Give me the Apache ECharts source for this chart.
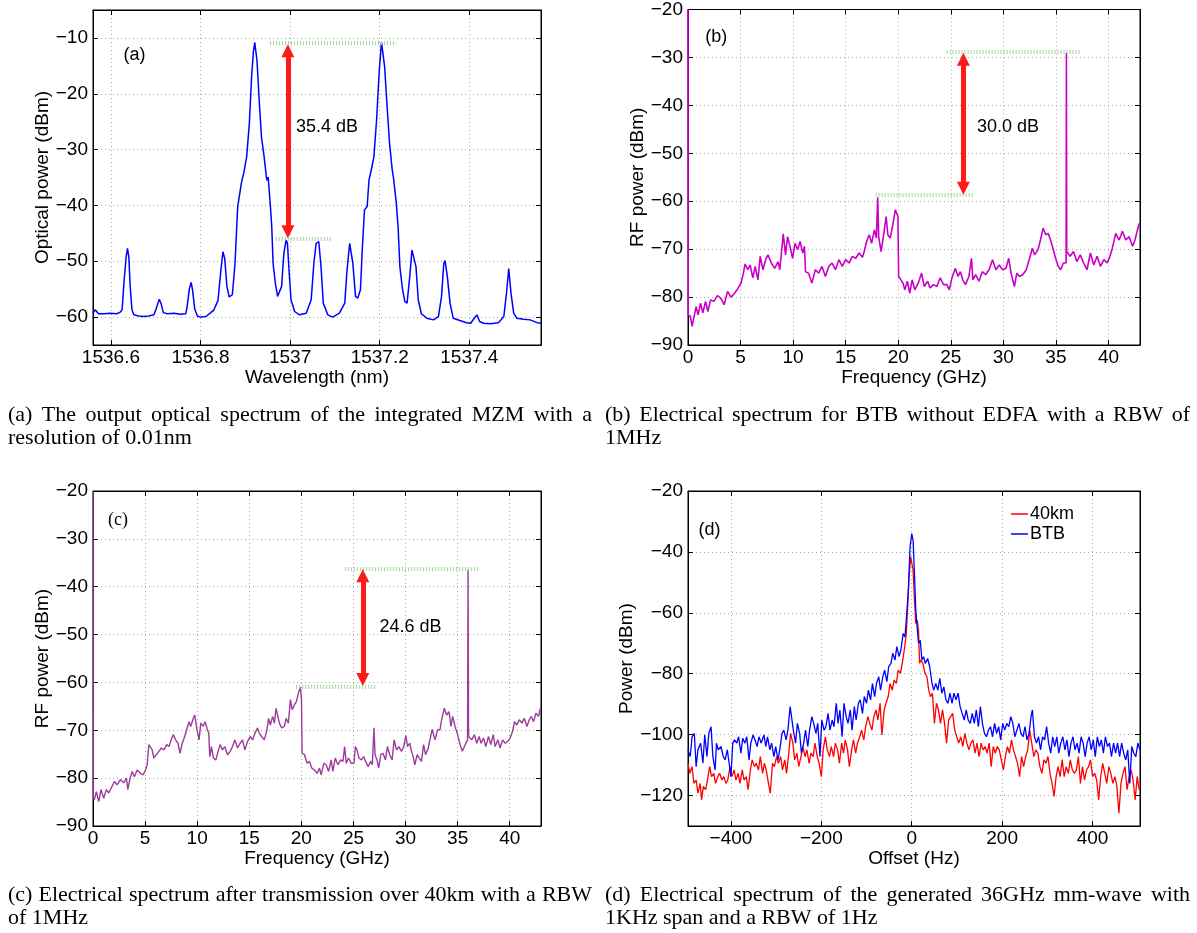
<!DOCTYPE html>
<html><head><meta charset="utf-8">
<script src="https://cdn.jsdelivr.net/npm/echarts@6/dist/echarts.min.js"></script>
<style>html,body{margin:0;padding:0;background:#fff}#c{width:1197px;height:933px}</style>
</head><body><div id="c"></div>
<script>
// ---------- DATA ----------
// (a) optical spectrum: wavelength (nm) / power (dBm)
const aWavelength = [1536.560,1536.565,1536.572,1536.584,1536.599,1536.613,1536.621,1536.625,1536.629,1536.634,1536.637,1536.640,1536.643,1536.647,1536.651,1536.662,1536.673,1536.684,1536.696,1536.701,1536.705,1536.708,1536.712,1536.717,1536.726,1536.741,1536.755,1536.767,1536.770,1536.775,1536.779,1536.782,1536.787,1536.793,1536.800,1536.812,1536.823,1536.830,1536.839,1536.845,1536.850,1536.854,1536.859,1536.864,1536.871,1536.877,1536.883,1536.886,1536.891,1536.897,1536.903,1536.909,1536.914,1536.918,1536.921,1536.923,1536.926,1536.931,1536.936,1536.942,1536.947,1536.948,1536.951,1536.956,1536.959,1536.962,1536.967,1536.972,1536.976,1536.981,1536.986,1536.991,1536.994,1536.998,1537.002,1537.010,1537.021,1537.036,1537.047,1537.053,1537.058,1537.064,1537.069,1537.074,1537.084,1537.095,1537.110,1537.122,1537.127,1537.133,1537.135,1537.140,1537.146,1537.151,1537.157,1537.161,1537.166,1537.172,1537.176,1537.181,1537.187,1537.193,1537.199,1537.204,1537.206,1537.211,1537.216,1537.222,1537.228,1537.231,1537.234,1537.237,1537.241,1537.245,1537.251,1537.256,1537.261,1537.267,1537.272,1537.276,1537.281,1537.286,1537.293,1537.305,1537.320,1537.331,1537.338,1537.343,1537.346,1537.351,1537.357,1537.364,1537.379,1537.394,1537.403,1537.411,1537.417,1537.423,1537.432,1537.447,1537.465,1537.477,1537.483,1537.488,1537.493,1537.499,1537.506,1537.521,1537.536,1537.551,1537.562];
const aPower = [-59.3,-58.7,-59.4,-59.4,-59.3,-59.4,-59.1,-58.7,-53.9,-49.2,-47.7,-49.2,-54.5,-58.7,-59.6,-59.8,-59.9,-59.8,-59.6,-58.5,-57.5,-56.8,-57.6,-59.2,-59.4,-59.3,-59.5,-59.4,-58.2,-55.0,-53.8,-55.0,-58.5,-59.8,-60.0,-59.9,-59.2,-58.7,-57.0,-52.0,-48.3,-49.5,-54.5,-56.4,-56.0,-50.4,-40.2,-39.9,-36.1,-34.0,-31.3,-25.3,-17.0,-12.5,-10.8,-11.0,-14.0,-21.2,-27.7,-31.3,-34.9,-35.5,-34.9,-40.2,-43.8,-50.4,-53.9,-56.3,-56.6,-54.5,-48.6,-46.2,-46.8,-52.2,-56.9,-59.0,-59.6,-59.3,-56.9,-50.4,-46.8,-46.5,-51.0,-57.5,-59.6,-60.0,-59.3,-57.5,-51.6,-46.8,-46.7,-50.4,-56.3,-56.6,-55.1,-48.0,-40.8,-40.2,-35.5,-33.7,-31.3,-24.7,-15.8,-10.8,-11.0,-15.2,-21.7,-28.9,-33.7,-35.2,-34.9,-39.6,-43.8,-51.0,-55.1,-57.2,-57.5,-52.8,-48.0,-47.7,-51.0,-56.9,-59.4,-60.2,-60.5,-59.9,-56.3,-50.4,-49.9,-52.8,-57.5,-60.2,-60.6,-61.0,-61.1,-60.2,-59.6,-60.8,-61.1,-61.2,-61.0,-59.9,-55.7,-51.3,-55.7,-59.3,-60.2,-60.4,-60.5,-61.0,-61.1];

// (b) RF spectrum BTB without EDFA: [frequency GHz, power dBm]
const bSpectrum = [[0,-20],[0.02,-83.7],[0.22,-84.0],[0.39,-86.1],[0.55,-84.4],[0.77,-82.0],[0.96,-83.7],[1.19,-81.3],[1.41,-83.3],[1.67,-80.9],[1.89,-83.0],[2.15,-80.6],[2.47,-80.9],[2.79,-79.7],[3.11,-80.2],[3.44,-81.6],[3.76,-78.8],[4.08,-80.0],[4.40,-79.3],[4.72,-78.3],[5.04,-77.1],[5.27,-75.0],[5.43,-73.1],[5.68,-74.3],[5.91,-73.3],[6.17,-76.0],[6.39,-73.6],[6.65,-76.4],[6.87,-71.5],[7.13,-74.3],[7.39,-72.2],[7.61,-71.2],[7.93,-72.9],[8.25,-74.0],[8.57,-72.6],[8.73,-74.3],[8.89,-70.8],[9.06,-66.8],[9.28,-71.2],[9.47,-67.4],[9.70,-69.4],[9.95,-71.9],[10.18,-68.8],[10.44,-70.1],[10.66,-68.4],[10.92,-70.8],[11.08,-69.4],[11.18,-74.7],[11.46,-75.0],[11.79,-77.1],[12.11,-74.3],[12.43,-75.0],[12.75,-73.6],[13.07,-75.7],[13.39,-73.6],[13.71,-72.9],[14.03,-74.3],[14.35,-72.2],[14.68,-73.6],[15.00,-72.2],[15.32,-72.9],[15.64,-71.5],[15.96,-71.9],[16.28,-70.8],[16.60,-71.7],[16.76,-70.5],[16.99,-68.4],[17.24,-67.0],[17.47,-68.8],[17.73,-66.0],[17.92,-67.7],[18.05,-59.2],[18.14,-67.4],[18.37,-70.5],[18.63,-66.7],[18.85,-63.2],[19.01,-67.0],[19.24,-67.7],[19.49,-64.9],[19.72,-61.8],[19.97,-63.2],[20.04,-75.7],[20.23,-75.3],[20.46,-77.1],[20.62,-78.5],[20.87,-76.7],[21.10,-79.2],[21.32,-76.4],[21.58,-78.5],[21.90,-77.1],[22.22,-75.0],[22.48,-77.8],[22.80,-76.7],[23.02,-78.1],[23.35,-77.4],[23.67,-77.8],[23.99,-76.0],[24.31,-77.4],[24.63,-77.4],[24.86,-78.5],[25.11,-76.0],[25.43,-74.0],[25.69,-75.7],[25.91,-74.7],[26.14,-76.4],[26.40,-77.4],[26.72,-75.7],[26.97,-71.9],[27.10,-76.4],[27.36,-75.3],[27.68,-76.7],[28.00,-74.7],[28.32,-75.3],[28.64,-74.3],[28.97,-72.2],[29.29,-74.3],[29.61,-73.3],[29.93,-74.3],[30.25,-74.0],[30.51,-71.9],[30.73,-75.0],[31.05,-77.8],[31.28,-75.0],[31.53,-75.7],[31.86,-75.3],[32.18,-74.3],[32.50,-71.9],[32.76,-69.8],[32.98,-71.2],[33.30,-70.1],[33.53,-68.1],[33.78,-65.6],[34.04,-67.0],[34.26,-66.7],[34.49,-68.1],[34.75,-70.1],[34.97,-71.9],[35.23,-73.6],[35.45,-74.3],[35.71,-72.9],[35.97,-72.9],[36.00,-29.0],[36.03,-70.5],[36.35,-71.5],[36.67,-70.5],[36.99,-72.6],[37.32,-71.2],[37.64,-72.9],[37.96,-74.3],[38.28,-70.8],[38.60,-73.3],[38.92,-71.5],[39.24,-73.6],[39.56,-72.2],[39.88,-72.9],[40.14,-71.5],[40.37,-69.8],[40.69,-66.7],[41.01,-68.1],[41.33,-66.3],[41.65,-68.1],[41.97,-67.4],[42.29,-69.4],[42.52,-68.1],[42.72,-66.3],[42.94,-64.6]];

// (c) RF spectrum after 40 km: [frequency GHz, power dBm]
const cSpectrum = [[0,-20],[0.02,-83.8],[0.13,-84.5],[0.32,-82.8],[0.55,-84.9],[0.77,-82.4],[1.03,-84.2],[1.28,-82.4],[1.51,-83.1],[1.83,-81.7],[2.06,-80.7],[2.31,-81.4],[2.63,-80.3],[2.95,-81.0],[3.21,-80.0],[3.34,-82.4],[3.53,-80.3],[3.76,-78.6],[3.98,-79.7],[4.24,-78.3],[4.56,-79.0],[4.82,-79.3],[5.04,-78.3],[5.20,-77.2],[5.36,-73.0],[5.52,-73.4],[5.68,-74.1],[5.84,-75.8],[6.07,-75.1],[6.33,-74.4],[6.55,-73.7],[6.81,-74.1],[7.07,-73.0],[7.29,-73.4],[7.51,-72.0],[7.71,-70.9],[7.93,-72.0],[8.16,-72.7],[8.35,-74.8],[8.57,-72.7],[8.80,-71.3],[8.99,-69.9],[9.22,-68.2],[9.38,-69.2],[9.63,-67.5],[9.76,-66.8],[9.95,-69.5],[10.18,-72.0],[10.34,-68.5],[10.57,-69.2],[10.76,-68.2],[10.98,-69.9],[11.11,-70.6],[11.21,-75.5],[11.37,-73.4],[11.56,-75.8],[11.79,-76.2],[12.01,-74.4],[12.20,-73.0],[12.43,-74.1],[12.65,-73.4],[12.91,-75.1],[13.17,-74.4],[13.39,-73.4],[13.62,-72.0],[13.87,-73.7],[14.13,-72.7],[14.35,-72.0],[14.58,-74.1],[14.84,-72.3],[15.09,-71.3],[15.32,-72.0],[15.54,-70.6],[15.80,-69.5],[15.96,-70.6],[16.18,-71.3],[16.44,-72.0],[16.67,-70.2],[16.86,-67.5],[17.02,-68.9],[17.24,-67.1],[17.41,-68.5],[17.57,-65.4],[17.73,-65.7],[17.89,-68.5],[18.11,-69.5],[18.37,-69.2],[18.53,-67.5],[18.75,-68.5],[18.95,-63.6],[19.11,-65.7],[19.33,-64.7],[19.52,-64.0],[19.72,-62.2],[19.91,-61.0],[20.01,-63.6],[20.07,-74.8],[20.30,-75.1],[20.55,-76.9],[20.78,-76.5],[21.00,-77.9],[21.26,-78.3],[21.52,-79.0],[21.74,-77.9],[21.90,-79.3],[22.16,-76.9],[22.38,-77.2],[22.61,-78.6],[22.86,-76.2],[23.02,-78.6],[23.25,-75.8],[23.51,-77.2],[23.76,-76.2],[23.99,-76.5],[24.15,-73.4],[24.31,-76.9],[24.53,-75.8],[24.79,-76.9],[25.05,-76.9],[25.18,-73.4],[25.34,-74.1],[25.53,-75.8],[25.75,-76.2],[25.98,-75.5],[26.17,-76.5],[26.40,-77.6],[26.65,-76.5],[26.81,-77.2],[26.97,-69.5],[27.07,-75.1],[27.26,-76.2],[27.42,-77.9],[27.62,-75.1],[27.84,-74.8],[28.07,-76.2],[28.26,-73.4],[28.48,-75.1],[28.71,-76.2],[28.90,-72.0],[29.13,-74.1],[29.35,-73.4],[29.61,-74.4],[29.83,-73.4],[30.03,-71.1],[30.19,-73.4],[30.41,-72.7],[30.57,-74.4],[30.73,-75.5],[30.89,-77.2],[31.12,-75.1],[31.31,-75.8],[31.53,-76.5],[31.73,-73.0],[31.92,-75.1],[32.18,-73.7],[32.34,-72.0],[32.56,-69.8],[32.82,-72.0],[33.08,-69.9],[33.30,-69.9],[33.46,-67.8],[33.72,-65.4],[33.94,-66.8],[34.17,-66.1],[34.36,-69.2],[34.52,-67.1],[34.75,-69.2],[35.00,-70.9],[35.23,-73.0],[35.45,-74.4],[35.65,-73.4],[35.95,-72.0],[36.00,-36.4],[36.05,-71.3],[36.35,-72.0],[36.61,-70.9],[36.83,-72.7],[37.06,-71.3],[37.25,-72.7],[37.48,-71.6],[37.70,-73.4],[37.96,-71.3],[38.18,-73.0],[38.41,-70.9],[38.60,-73.4],[38.86,-72.0],[39.08,-73.7],[39.31,-72.0],[39.56,-72.7],[39.82,-72.3],[40.04,-71.6],[40.27,-70.2],[40.46,-68.2],[40.69,-68.9],[40.91,-67.8],[41.17,-68.5],[41.39,-67.5],[41.65,-69.2],[41.87,-67.8],[42.07,-67.1],[42.29,-68.2],[42.52,-66.4],[42.77,-67.1],[42.94,-65.4]];

// (d) 36 GHz mm-wave: [offset Hz, power dBm]
const d40km = [[-495,-109.4],[-491,-112.7],[-486,-110.5],[-482,-116.0],[-477,-114.9],[-473,-119.2],[-468,-116.0],[-465,-121.4],[-461,-117.0],[-456,-118.1],[-452,-114.9],[-447,-110.5],[-443,-113.8],[-438,-112.7],[-434,-116.0],[-429,-113.8],[-425,-112.7],[-420,-114.9],[-416,-113.8],[-411,-116.0],[-407,-114.9],[-402,-110.5],[-398,-113.8],[-393,-111.6],[-389,-114.9],[-384,-112.7],[-380,-116.0],[-375,-111.6],[-371,-114.9],[-366,-113.8],[-362,-118.1],[-357,-111.6],[-353,-108.3],[-348,-110.5],[-344,-109.4],[-339,-111.6],[-335,-107.2],[-330,-112.7],[-326,-109.4],[-322,-111.6],[-317,-116.0],[-313,-119.2],[-308,-109.4],[-304,-110.5],[-299,-107.2],[-295,-109.4],[-290,-107.2],[-286,-111.6],[-281,-108.3],[-277,-112.7],[-272,-106.1],[-268,-99.6],[-263,-102.8],[-259,-108.3],[-254,-106.1],[-250,-110.5],[-245,-107.2],[-241,-103.9],[-236,-107.2],[-232,-105.0],[-227,-109.4],[-223,-106.1],[-218,-107.2],[-214,-102.8],[-209,-107.2],[-205,-109.4],[-200,-113.8],[-196,-105.0],[-191,-100.7],[-187,-105.0],[-182,-107.2],[-178,-103.9],[-173,-107.2],[-169,-102.8],[-164,-105.0],[-160,-109.4],[-155,-102.8],[-151,-106.1],[-147,-101.7],[-142,-105.0],[-138,-110.5],[-133,-105.0],[-129,-101.7],[-124,-106.1],[-120,-102.8],[-115,-100.7],[-111,-98.5],[-106,-101.7],[-102,-97.4],[-97,-94.1],[-93,-96.3],[-88,-98.5],[-84,-94.1],[-79,-91.9],[-75,-95.2],[-70,-89.7],[-66,-100.1],[-61,-91.9],[-57,-89.7],[-52,-87.5],[-48,-83.2],[-43,-85.4],[-39,-82.1],[-34,-83.2],[-30,-78.8],[-25,-79.9],[-21,-76.6],[-16.5,-72.2],[-12,-66.8],[-9,-58.0],[-6,-48.2],[-2.2,-41.6],[0,-41.4],[3,-46.0],[6,-55.8],[9,-63.5],[12,-62.4],[15,-65.7],[17.3,-76.6],[20.3,-75.5],[24.8,-76.6],[29.2,-79.9],[33.7,-81.0],[37.5,-85.4],[41.2,-87.5],[45.7,-86.4],[50.2,-96.3],[54.7,-89.7],[59.1,-91.9],[63.6,-96.3],[68.1,-91.9],[72.6,-96.3],[77.1,-102.8],[81.6,-95.2],[86.1,-94.1],[90.6,-93.0],[95.0,-98.5],[99.5,-100.7],[104.0,-102.8],[108.5,-100.7],[113.0,-103.9],[117.5,-99.6],[122.0,-102.8],[126.4,-105.0],[130.9,-102.8],[135.4,-101.7],[139.9,-106.1],[144.4,-102.8],[148.9,-107.2],[153.4,-102.8],[157.8,-105.0],[162.3,-103.9],[166.8,-106.1],[171.3,-102.8],[175.8,-110.5],[180.3,-103.9],[184.8,-106.1],[189.2,-103.9],[193.7,-105.0],[198.2,-108.3],[202.7,-111.6],[207.2,-107.2],[211.7,-103.9],[216.2,-106.1],[220.7,-101.7],[225.1,-105.0],[229.6,-107.2],[234.1,-109.4],[238.6,-113.8],[243.1,-107.2],[247.6,-110.5],[252.1,-107.2],[256.6,-105.0],[261.0,-98.5],[265.5,-102.8],[270.0,-107.2],[274.5,-105.0],[279.0,-106.1],[283.5,-110.5],[288.0,-112.7],[292.4,-108.3],[296.9,-109.4],[301.4,-107.2],[305.9,-112.7],[310.4,-116.0],[314.9,-120.3],[319.4,-113.8],[323.8,-110.5],[328.3,-113.8],[332.8,-108.3],[337.3,-113.8],[341.8,-110.5],[346.3,-112.7],[350.8,-108.3],[355.3,-111.6],[359.7,-112.7],[364.2,-111.6],[368.7,-107.2],[373.2,-116.0],[377.7,-110.5],[382.2,-114.9],[386.6,-111.6],[391.1,-110.5],[395.6,-108.3],[400.1,-113.8],[404.6,-112.7],[409.1,-114.9],[413.6,-121.4],[418.0,-113.8],[422.5,-109.4],[427.0,-112.7],[431.5,-116.0],[436.0,-110.5],[440.5,-112.7],[445.0,-116.0],[449.5,-113.8],[453.9,-117.0],[458.4,-125.8],[462.9,-116.0],[467.4,-112.7],[471.9,-110.5],[476.4,-118.1],[480.9,-113.8],[485.4,-111.6],[489.8,-114.9],[494.3,-121.4],[498.8,-113.8],[503.3,-118.1],[504.8,-117.0]];
const dBTB = [[-495,-105.0],[-490,-107.2],[-486,-100.7],[-481,-99.6],[-477,-110.5],[-473,-105.0],[-467,-102.8],[-462,-109.4],[-458,-100.1],[-453,-107.2],[-449,-99.6],[-444,-97.4],[-440,-107.2],[-435,-111.6],[-432,-102.8],[-428,-105.0],[-422,-103.9],[-417,-107.2],[-413,-108.3],[-408,-105.0],[-404,-109.4],[-400,-113.8],[-396,-102.8],[-392,-101.7],[-387,-102.8],[-383,-100.7],[-378,-106.1],[-374,-101.2],[-369,-102.8],[-365,-100.7],[-360,-108.3],[-356,-102.8],[-351,-100.1],[-347,-101.7],[-342,-103.9],[-338,-100.7],[-333,-102.8],[-327,-100.1],[-323,-103.9],[-319,-100.7],[-314,-105.0],[-310,-102.8],[-305,-107.2],[-301,-103.9],[-296,-108.3],[-292,-105.0],[-287,-99.6],[-283,-98.5],[-278,-101.7],[-274,-98.5],[-269,-90.8],[-266,-90.3],[-262,-98.5],[-257,-102.8],[-253,-96.3],[-248,-99.6],[-244,-106.1],[-239,-102.8],[-235,-98.5],[-230,-103.9],[-226,-98.5],[-221,-94.1],[-217,-96.3],[-212,-99.6],[-208,-96.3],[-203,-107.2],[-199,-95.2],[-194,-98.5],[-190,-97.4],[-185,-93.0],[-181,-98.5],[-176,-95.2],[-172,-97.4],[-167,-89.7],[-163,-96.3],[-159,-91.9],[-154,-100.7],[-150,-89.7],[-145,-94.1],[-141,-96.3],[-136,-91.9],[-132,-98.5],[-127,-90.8],[-123,-95.2],[-118,-89.7],[-114,-88.6],[-109,-93.0],[-105,-87.5],[-100,-89.7],[-96,-85.4],[-91,-88.6],[-87,-83.2],[-82,-87.5],[-78,-83.2],[-73,-81.0],[-69,-85.4],[-64,-81.0],[-60,-78.8],[-55,-82.6],[-51,-77.7],[-46,-76.6],[-42,-73.3],[-37,-75.5],[-33,-71.1],[-28,-74.4],[-24,-72.2],[-19,-66.8],[-15,-67.9],[-11,-60.2],[-7.5,-52.6],[-3.7,-38.4],[0,-34.0],[3,-36.2],[6,-47.1],[9,-59.1],[11.3,-63.5],[15.0,-70.0],[18.8,-69.0],[22.5,-75.5],[26.2,-74.4],[30.0,-76.6],[35.2,-75.0],[39.7,-77.7],[44.9,-83.2],[48.7,-85.4],[53.2,-83.2],[57.7,-85.4],[62.1,-81.5],[66.6,-86.4],[71.1,-84.3],[75.6,-88.6],[80.1,-89.7],[84.6,-86.4],[89.1,-89.7],[93.5,-86.4],[98.0,-88.6],[102.5,-86.4],[107.0,-90.8],[111.5,-93.0],[116.0,-95.2],[120.5,-91.9],[125.0,-95.2],[129.4,-96.3],[133.9,-93.0],[138.4,-96.3],[142.9,-91.9],[147.4,-97.4],[151.9,-90.8],[156.4,-96.3],[160.9,-99.6],[165.3,-100.7],[169.8,-98.5],[174.3,-97.4],[178.8,-100.7],[183.3,-96.3],[187.8,-99.6],[192.3,-97.4],[196.7,-101.7],[201.2,-96.3],[205.7,-98.5],[210.2,-96.3],[214.7,-97.4],[219.2,-94.1],[223.6,-96.3],[228.1,-100.7],[232.6,-98.5],[237.1,-96.3],[241.6,-99.6],[246.1,-100.7],[250.6,-97.4],[255.0,-101.7],[259.5,-99.6],[264.0,-94.1],[267.0,-91.9],[271.5,-100.7],[276.0,-102.8],[280.5,-100.7],[285.0,-105.0],[289.4,-100.7],[293.9,-101.7],[298.4,-97.4],[302.9,-102.8],[307.4,-106.1],[311.9,-100.7],[316.4,-103.9],[320.9,-100.7],[325.3,-106.1],[329.8,-102.8],[334.3,-100.7],[338.8,-105.0],[343.3,-101.7],[347.8,-107.2],[352.3,-102.8],[356.7,-100.7],[361.2,-105.0],[365.7,-102.8],[370.2,-106.1],[374.7,-100.7],[379.2,-102.8],[383.7,-107.2],[388.1,-102.8],[392.6,-100.7],[397.1,-105.0],[401.6,-101.7],[406.1,-107.2],[410.6,-100.7],[415.1,-103.9],[419.5,-101.7],[424.0,-106.1],[428.5,-100.7],[433.0,-103.9],[437.5,-102.8],[442.0,-107.2],[446.5,-102.8],[451.0,-106.1],[455.4,-102.8],[459.9,-107.2],[464.4,-102.8],[468.9,-106.1],[473.4,-108.3],[477.9,-105.0],[482.4,-116.0],[486.8,-103.9],[491.3,-106.1],[495.8,-107.2],[500.3,-102.8],[504.8,-105.0]];

// Annotations (data coordinates): [x0, x1, y] for dotted levels, arrow x / tip levels, label text and anchor
const aLevels = [[1536.955,1537.237,-10.9],[1536.968,1537.092,-45.9]];
const bLevels = [[24.6,37.3,-28.9],[17.85,27.2,-58.7]];
const cLevels = [[24.2,37.0,-36.2],[19.5,27.1,-60.8]];
const arrowX = [1536.995, 26.2, 25.9];
const arrowEnds = [[-12.3,-44.7],[-30.4,-57.3],[-37.7,-59.4]];
const deltaText = ['35.4 dB','30.0 dB','24.6 dB'];
const deltaAt = [[1537.013,-25.9],[27.5,-44.5],[27.5,-48.4]];
const panelTags = ['(a)','(b)','(c)','(d)'];
const tagAt = [[1536.628,-13.1],[1.63,-25.7],[1.44,-26.1],[-472,-32.9]];

const captions = [
  ['(a) The output optical spectrum of the integrated MZM with a','resolution of 0.01nm'],
  ['(b) Electrical spectrum for BTB without EDFA with a RBW of','1MHz'],
  ['(c) Electrical spectrum after transmission over 40km with a RBW','of 1MHz'],
  ['(d) Electrical spectrum of the generated 36GHz mm-wave with','1KHz span and a RBW of 1Hz']
];

// ---------- CHART ----------
const SANS = 'Liberation Sans';
const SERIF = 'Liberation Serif';
const pair = (xs, ys) => xs.map((x, i) => [x, ys[i]]);
const num = d => v => { const r = +(+v).toFixed(d); return (r < 0 ? '\u2212' : '') + Math.abs(r); };

const grids = [
  {left:93, top:10, width:448, height:335},
  {left:688, top:9, width:452, height:336},
  {left:93, top:491, width:448, height:335},
  {left:688, top:491, width:452, height:335}
].map(g => Object.assign(g, {show:true, borderColor:'#000', borderWidth:1, backgroundColor:'transparent'}));

const splitStyle = {show:true, lineStyle:{color:'#a8a8a8', type:[1,3], width:1}};
function axisPair(kind, g, cfg) {
  const main = {
    gridIndex:g, type:'value', position: kind==='x' ? 'bottom' : 'left',
    min:cfg.min, max:cfg.max,
    name:cfg.name, nameLocation:'middle', nameGap:cfg.gap,
    nameTextStyle:{fontFamily:SANS, fontSize:19, color:'#000'},
    axisLine:{show:true, onZero:false, lineStyle:{color:'#000', width:1}},
    axisTick:{show:true, inside:true, length:5, lineStyle:{color:'#000'}},
    axisLabel:{fontFamily:SANS, fontSize:19, color:'#000', margin: kind==='x'?3:5,
      showMinLabel:cfg.minL, showMaxLabel:cfg.maxL, formatter:cfg.fmt},
    splitLine:splitStyle
  };
  if (cfg.interval) main.interval = cfg.interval;
  const mirror = {
    gridIndex:g, type:'value', position: kind==='x' ? 'top' : 'right',
    min:cfg.min, max:cfg.max,
    axisLine:{show:true, onZero:false, lineStyle:{color:'#000', width:1}},
    axisTick:{show:true, inside:true, length:5, lineStyle:{color:'#000'}},
    axisLabel:{show:false}, splitLine:{show:false}
  };
  if (cfg.interval) mirror.interval = cfg.interval;
  return [main, mirror];
}

const xAxes = [].concat(
  axisPair('x',0,{min:1536.56,max:1537.56,name:'Wavelength (nm)',gap:21,minL:false,maxL:false,fmt:num(1)}),
  axisPair('x',1,{min:0,max:43,interval:5,name:'Frequency (GHz)',gap:18,minL:true,maxL:false,fmt:num(0)}),
  axisPair('x',2,{min:0,max:43,interval:5,name:'Frequency (GHz)',gap:19,minL:true,maxL:false,fmt:num(0)}),
  axisPair('x',3,{min:-495,max:505,name:'Offset (Hz)',gap:19,minL:false,maxL:false,fmt:num(0)})
);
const yAxes = [].concat(
  axisPair('y',0,{min:-65,max:-5,name:'Optical power (dBm)',gap:35,minL:false,maxL:false,fmt:num(0)}),
  axisPair('y',1,{min:-90,max:-20,interval:10,name:'RF power (dBm)',gap:30,minL:true,maxL:true,fmt:num(0)}),
  axisPair('y',2,{min:-90,max:-20,interval:10,name:'RF power (dBm)',gap:30,minL:true,maxL:true,fmt:num(0)}),
  axisPair('y',3,{min:-130,max:-20,name:'Power (dBm)',gap:40,minL:false,maxL:true,fmt:num(0)})
);

const green = {color:'#a3d39c', width:4, type:[1,2]};
const red = {color:'#ff1a1a', width:5, type:'solid'};
function annotation(levels, ax, ends) {
  const [u, l] = levels;
  const head = {symbol:'triangle', symbolSize:[13,13], itemStyle:{color:'#ff1a1a'}};
  return {
    silent:true, animation:false, symbol:'none', label:{show:false},
    data:[
      [{coord:[u[0],u[2]], lineStyle:green}, {coord:[u[1],u[2]]}],
      [{coord:[l[0],l[2]], lineStyle:green}, {coord:[l[1],l[2]]}],
      [Object.assign({coord:[ax,ends[0]], lineStyle:red}, head), Object.assign({coord:[ax,ends[1]]}, head)]
    ]
  };
}
function textSeries(g, items) {
  return {
    type:'scatter', xAxisIndex:2*g, yAxisIndex:2*g, symbolSize:0, silent:true, z:5,
    itemStyle:{opacity:1, color:'#000'},
    data: items.map(it => ({value:it.at, label:{show:true, position:'right', distance:0, opacity:1,
      formatter:it.text, fontFamily:it.font||SANS, fontSize:18, color:'#000'}}))
  };
}

const series = [
  {type:'line', name:'a', xAxisIndex:0, yAxisIndex:0, data:pair(aWavelength,aPower), showSymbol:false, symbol:'none',
   lineStyle:{color:'#0000ff', width:1.5}, markLine:annotation(aLevels, arrowX[0], arrowEnds[0])},
  {type:'line', name:'b', xAxisIndex:2, yAxisIndex:2, data:bSpectrum, showSymbol:false, symbol:'none',
   lineStyle:{color:'#c800c8', width:1.6}, markLine:annotation(bLevels, arrowX[1], arrowEnds[1])},
  {type:'line', name:'c', xAxisIndex:4, yAxisIndex:4, data:cSpectrum, showSymbol:false, symbol:'none',
   lineStyle:{color:'#9c3c9c', width:1.4}, markLine:annotation(cLevels, arrowX[2], arrowEnds[2])},
  {type:'line', name:'40km', xAxisIndex:6, yAxisIndex:6, data:d40km, showSymbol:false, symbol:'none',
   itemStyle:{color:'#ff0000'}, lineStyle:{color:'#ff0000', width:1.3}},
  {type:'line', name:'BTB', xAxisIndex:6, yAxisIndex:6, data:dBTB, showSymbol:false, symbol:'none',
   itemStyle:{color:'#0000ff'}, lineStyle:{color:'#0000ff', width:1.3}},
  textSeries(0, [{at:tagAt[0], text:panelTags[0]}, {at:deltaAt[0], text:deltaText[0]}]),
  textSeries(1, [{at:tagAt[1], text:panelTags[1]}, {at:deltaAt[1], text:deltaText[1]}]),
  textSeries(2, [{at:tagAt[2], text:panelTags[2], font:SERIF}, {at:deltaAt[2], text:deltaText[2]}]),
  textSeries(3, [{at:tagAt[3], text:panelTags[3]}])
];

// captions (justified like the typeset page)
function captionGraphics() {
  const ctx = document.createElement('canvas').getContext('2d');
  const fs = 22;
  ctx.font = fs + 'px "' + SERIF + '"';
  const els = [];
  const place = (txt, x, y) => els.push({type:'text', x, y, silent:true,
    style:{text:txt, fontSize:fs, fontFamily:SERIF, fill:'#000', align:'left', verticalAlign:'middle'}});
  function line(text, x0, x1, y, justify) {
    if (!justify) { place(text, x0, y); return; }
    const words = text.split(' ');
    const ws = words.map(w => ctx.measureText(w).width);
    const tot = ws.reduce((a, b) => a + b, 0);
    const gap = (x1 - x0 - tot) / (words.length - 1);
    let x = x0;
    words.forEach((w, i) => { place(w, x, y); x += ws[i] + gap; });
  }
  const cols = [[8,592],[605,1190]];
  const rows = [[415,438],[895,918]];
  captions.forEach((c, i) => {
    const col = cols[i % 2], row = rows[Math.floor(i / 2)];
    line(c[0], col[0], col[1], row[0], true);
    line(c[1], col[0], col[1], row[1], false);
  });
  return els;
}

const chart = echarts.init(document.getElementById('c'), null, {renderer:'canvas'});
chart.setOption({
  animation:false,
  backgroundColor:'#fff',
  textStyle:{fontFamily:SANS},
  grid:grids,
  xAxis:xAxes,
  yAxis:yAxes,
  legend:{data:['40km','BTB'], orient:'vertical', left:1011, top:505, padding:0,
    icon:'rect', itemWidth:17, itemHeight:1.5, itemGap:2,
    textStyle:{fontFamily:SANS, fontSize:18, color:'#000', padding:[0,0,0,-3]}, selectedMode:false},
  series:series,
  graphic:captionGraphics()
});
</script></body></html>
